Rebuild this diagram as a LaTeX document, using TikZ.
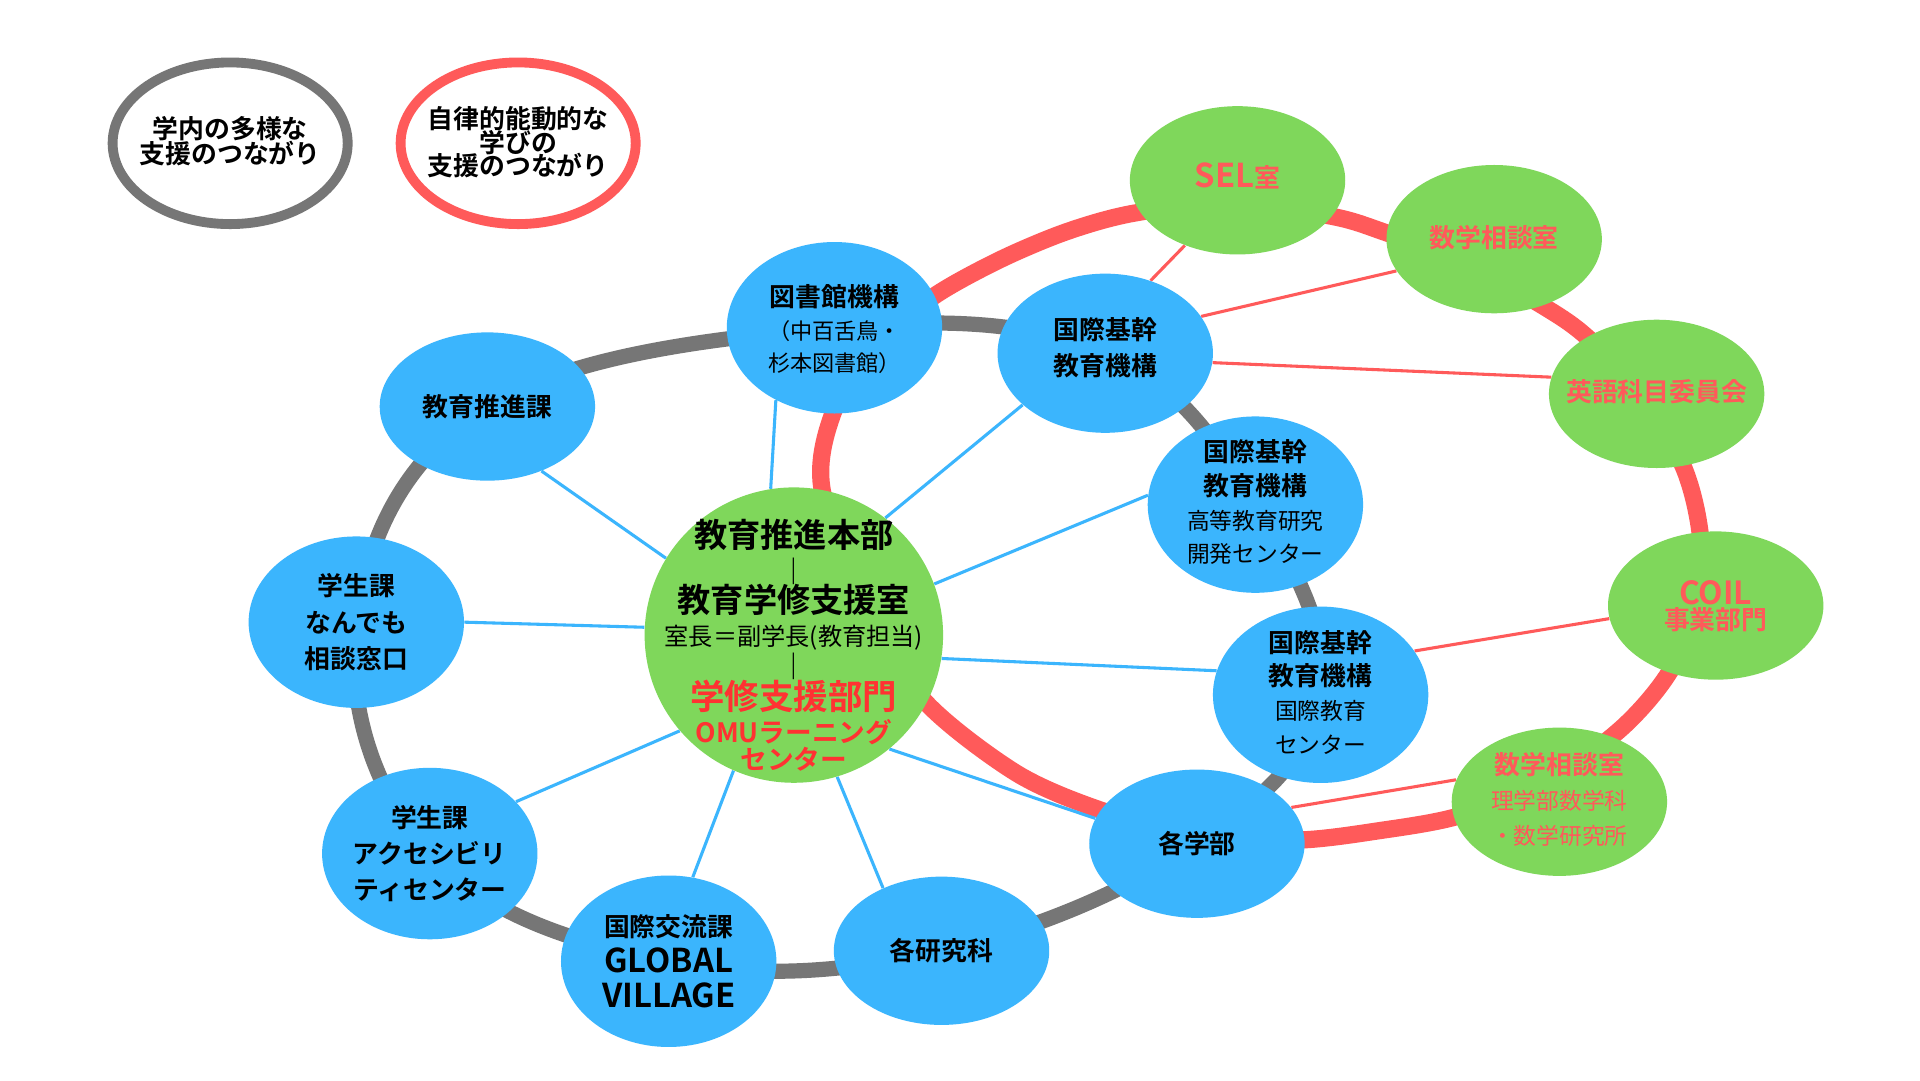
\documentclass[tikz,border=0pt]{standalone}
\usepackage{fontspec}
\setmainfont{Noto Sans CJK JP}[BoldFont={Noto Sans CJK JP Bold}]
\usetikzlibrary{shapes.geometric}
\definecolor{nblue}{HTML}{3BB5FD}
\definecolor{ngreen}{HTML}{7FD75B}
\definecolor{rred}{HTML}{FF5A5A}
\definecolor{rgray}{HTML}{767676}
\definecolor{tred}{HTML}{FF3232}
\definecolor{gtred}{HTML}{FF5A5A}
\newcommand\F[2]{\fontsize{#1pt}{#2pt}\bfseries\lineskiplimit=-50pt }
\newcommand\RF[2]{\fontsize{#1pt}{#2pt}\mdseries\lineskiplimit=-50pt }
\pgfdeclarelayer{bg}
\pgfdeclarelayer{rings}
\pgfdeclarelayer{links}
\pgfsetlayers{bg,rings,links,main}
\tikzset{
  bn/.style={ellipse, fill=nblue, inner sep=0pt, minimum width=105pt},
  gn/.style={ellipse, fill=ngreen, inner sep=0pt, minimum width=105pt, minimum height=72.3pt},
  lgd/.style={ellipse, fill=white, inner sep=0pt, line width=4.8pt, minimum width=114.6pt, minimum height=78.8pt},
  txt/.style={align=center, inner sep=0pt},
  gtxt/.style={align=center, inner sep=0pt, text=gtred},
  bline/.style={draw=nblue, line width=1.5pt},
  rline/.style={draw=rred, line width=1.5pt},
}
\begin{document}
\begin{tikzpicture}[x=0.6pt,y=-0.6pt]
\begin{pgfonlayer}{bg}
\fill[white] (0,0) rectangle (1560,877.5);
\end{pgfonlayer}
\useasboundingbox (0,0) rectangle (1560,877.5);

% legend
\node[lgd, draw=rgray] (lg1) at (187,116.4) {};
\node[lgd, draw=rred] (lg2) at (421,116.4) {};
\node[txt, font=\F{12.6}{12}] (lg1t) at (187,114.5) {学内の多様な\\支援のつながり};
\node[txt, font=\F{12.6}{11.4}] (lg2t) at (421,115.5) {自律的能動的な\\学びの\\支援のつながり};

% blue nodes
\node[bn, minimum height=72.3pt] (P) at (396,330.3) {};
\node[bn, minimum height=83.6pt] (L) at (678,266.3) {};
\node[bn, minimum height=77.6pt] (K1) at (898,287) {};
\node[bn, minimum height=86pt] (K2) at (1020,410) {};
\node[bn, minimum height=86pt] (K3) at (1073,564.5) {};
\node[bn, minimum height=72.3pt] (G) at (972.5,685.5) {};
\node[bn, minimum height=72.3pt] (R) at (765,772.5) {};
\node[bn, minimum height=83.6pt] (X) at (543.3,781) {};
\node[bn, minimum height=83.6pt] (A) at (349.2,693.5) {};
\node[bn, minimum height=83.6pt] (N) at (289.5,505.5) {};
% center
\node[ellipse, fill=ngreen, inner sep=0pt, minimum width=145.5pt, minimum height=144pt] (C) at (645,516) {};
% green nodes
\node[gn] (S) at (1005.5,146.5) {};
\node[gn] (M1) at (1214,194.3) {};
\node[gn] (E) at (1346,320) {};
\node[gn] (CO) at (1394,492) {};
\node[gn] (M2) at (1267,651.4) {};

% texts
\node[txt, font=\F{12.6}{17.4}] (Pt) at (P) {教育推進課};
\node[txt, font=\F{12.6}{15.9}] (Lt) at (678,267.5) {図書館機構\\{\RF{10.8}{12}（中百舌鳥・}\\{\RF{10.8}{12}杉本図書館）}};
\node[txt, font=\F{12.6}{17.4}] (K1t) at (898,282.5) {国際基幹\\教育機構};
\node[txt, font=\F{12.6}{16.4}] (K2t) at (1020,408) {国際基幹\\教育機構\\{\RF{11.1}{12}高等教育研究}\\{\RF{11.1}{12}開発センター}};
\node[txt, font=\F{12.6}{16.4}] (K3t) at (1073,562.5) {国際基幹\\教育機構\\{\RF{11.1}{12}国際教育}\\{\RF{11.1}{12}センター}};
\node[txt, font=\F{12.6}{17.4}] (Gt) at (G) {各学部};
\node[txt, font=\F{12.6}{17.4}] (Rt) at (R) {各研究科};
\node[txt, font=\F{12.6}{17.4}] (Xt) at (543.3,781) {国際交流課\\{\F{16}{12}GLOBAL}\\{\F{16}{12}VILLAGE}};
\node[txt, font=\F{12.6}{17.7}] (At) at (349.2,693.5) {学生課\\アクセシビリ\\ティセンター};
\node[txt, font=\F{12.6}{17.7}] (Nt) at (289.5,505.5) {学生課\\なんでも\\相談窓口};
\node[txt, font=\F{16.2}{15.6}] (Ct) at (645,524) {教育推進本部\\[1.2pt]{\F{13}{12}｜}\\[-0.6pt]教育学修支援室\\[0.6pt]{\RF{11.8}{12}室長＝副学長(教育担当)}\\[-0.6pt]{\F{13}{12}｜}\\[0.6pt]\textcolor{tred}{\F{16.8}{12}学修支援部門}\\[0.3pt]\textcolor{tred}{\F{13}{12}OMUラーニング}\\[-2.4pt]\textcolor{tred}{\F{13}{12}センター}};
\node[gtxt, font=\F{12.6}{17.4}] (St) at (1005.5,143) {{\F{16}{12}SEL}室};
\node[gtxt, font=\F{12.6}{17.4}] (M1t) at (1214,193) {数学相談室};
\node[gtxt, font=\F{12.6}{17.4}] (Et) at (1346,318.5) {英語科目委員会};
\node[gtxt, font=\F{12.6}{12}] (COt) at (1394,492.5) {{\F{15.5}{12}COIL}\\事業部門};
\node[gtxt, font=\F{12.6}{17.1}] (M2t) at (1267,649.5) {数学相談室\\{\RF{11.1}{12}理学部数学科}\\{\RF{11.1}{12}・数学研究所}};

% rings
\begin{pgfonlayer}{rings}
\draw[rgray, line width=7.4pt] plot[smooth cycle, tension=0.65] coordinates {(N.center) (P.center) (L.center) (K1.center) (K2.center) (K3.center) (G.center) (R.center) (X.center) (A.center)};
\draw[rred, line width=8.4pt] plot[smooth cycle, tension=0.5] coordinates {(667.6,395.4) (676.8,335.6) (708,283) (758.3,241) (812.5,211) (866.7,188.2) (920.8,173.3) (1002,164) (1083.3,176) (1124,188.3) (1192,214) (1256.7,250.5) (1289,273.5) (1333,318) (1367.7,379.2) (1381,430.6) (1383,492) (1354,549.8) (1316,593) (1255,637) (1183.5,663.5) (1120,675) (1056,682.5) (975,680) (893.75,658) (826,628.3) (753,571.5) (700,495)};
\end{pgfonlayer}

% links
\begin{pgfonlayer}{links}
\draw[bline] (P.310) -- (C.149.5);
\draw[bline] (L.231) -- (C.99);
\draw[bline] (K1.212.5) -- (C.52.6);
\draw[bline] (K2.175) -- (C.20.5);
\draw[bline] (K3.167.5) -- (C.351);
\draw[bline] (C.310) -- (G.166.6);
\draw[bline] (C.287) -- (R.133);
\draw[bline] (C.246.4) -- (X.74);
\draw[bline] (A.31) -- (C.220);
\draw[bline] (N.0) -- (C.177);
\draw[rline] (S.231.4) -- (K1.58);
\draw[rline] (K1.21.3) -- (M1.198.4);
\draw[rline] (K1.355.4) -- (E.171);
\draw[rline] (K3.25.6) -- (CO.187);
\draw[rline] (G.21) -- (M2.168.6);
\end{pgfonlayer}
\end{tikzpicture}
\end{document}
